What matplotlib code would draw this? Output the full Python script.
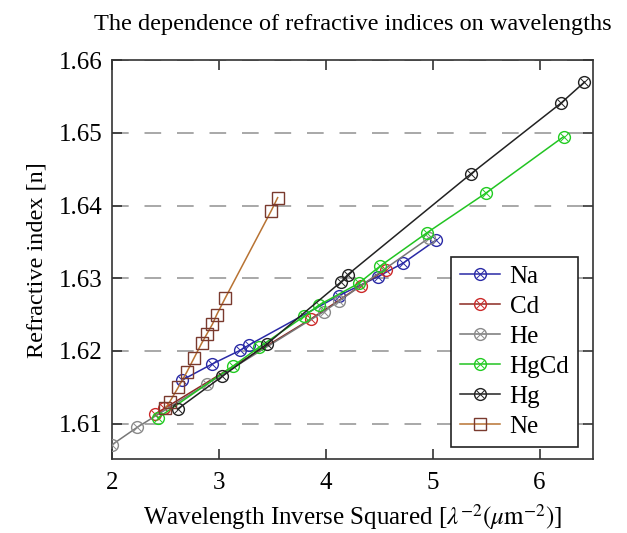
import numpy as np
import matplotlib
matplotlib.use("Agg")
import matplotlib.pyplot as plt
from matplotlib.legend_handler import HandlerTuple

plt.rcParams["font.family"] = ["Liberation Serif", "DejaVu Serif"]
plt.rcParams["mathtext.fontset"] = "stix"

# data
na_x = [2.656, 2.936, 3.20, 3.278, 4.12, 4.484, 4.724, 5.035]
na_y = [1.6160, 1.6182, 1.6201, 1.6208, 1.6276, 1.6302, 1.6321, 1.6353]

cd_x = [2.40, 2.49, 3.86, 4.33, 4.56]
cd_y = [1.6113, 1.6121, 1.6244, 1.6290, 1.6312]

he_x = [2.0, 2.236, 2.893, 3.98, 4.127, 4.97]
he_y = [1.6071, 1.6095, 1.6155, 1.6254, 1.6269, 1.6356]

hgcd_x = [2.43, 3.13, 3.374, 3.80, 3.934, 4.307, 4.51, 4.95, 5.495, 6.226]
hgcd_y = [1.6108, 1.6179, 1.6205, 1.6248, 1.6263, 1.6293, 1.6317, 1.6363, 1.6417, 1.6495]

hg_x = [2.613, 3.03, 3.452, 4.143, 4.205, 5.36, 6.20, 6.42]
hg_y = [1.6120, 1.6165, 1.6210, 1.6295, 1.6305, 1.6444, 1.6541, 1.6570]

ne_x = [2.50, 2.54, 2.62, 2.70, 2.77, 2.84, 2.89, 2.94, 2.98, 3.06, 3.49, 3.55]
ne_y = [1.6121, 1.6130, 1.6150, 1.6171, 1.6191, 1.6211, 1.6224, 1.6237, 1.6250, 1.6273, 1.6393, 1.6411]

x_ticks = [2, 3, 4, 5, 6]
y_ticks = [1.61, 1.62, 1.63, 1.64, 1.65, 1.66]

fig = plt.figure(figsize=(6.27, 5.33), dpi=100)
ax = fig.add_axes([0.1786, 0.1383, 0.7672, 0.7486])

series = [
    (na_x, na_y, "Na", "#2a2aa6", "#2a2aa6"),
    (cd_x, cd_y, "Cd", "#8b2a22", "#cc2a2a"),
    (he_x, he_y, "He", "#777777", "#8a8a8a"),
    (hgcd_x, hgcd_y, "HgCd", "#22c422", "#22cc22"),
    (hg_x, hg_y, "Hg", "#222222", "#222222"),
]
handles, labels = [], []
for xs, ys, name, lc, mc in series:
    l1, = ax.plot(xs, ys, color=lc, lw=1.1, marker="o", markersize=8.5,
                  markerfacecolor="none", markeredgecolor=mc,
                  markeredgewidth=1.0, zorder=3)
    l2, = ax.plot(xs, ys, ls="none", marker="x", markersize=5.5,
                  markeredgecolor=mc, markeredgewidth=0.7, zorder=3)
    handles.append((l1, l2))
    labels.append(name)

l_ne, = ax.plot(ne_x, ne_y, color="#b87333", lw=1.1, marker="s", markersize=8,
                markerfacecolor="none", markeredgecolor="#7a3a2e",
                markeredgewidth=1.0, zorder=3)
handles.append(l_ne)
labels.append("Ne")

ax.set_xlim(2, 6.5)
ax.set_ylim(1.6051, 1.66)
ax.set_xticks(x_ticks)
ax.set_yticks(y_ticks)
ax.set_yticklabels(["%.2f" % v for v in y_ticks])
ax.tick_params(direction="in", length=7, width=1.2, top=True, right=True,
               labelsize=18, pad=7, color="#333333")
ax.tick_params(axis="x", pad=9)
for s in ax.spines.values():
    s.set_linewidth(1.2)
    s.set_color("#333333")

ax.yaxis.grid(True, linestyle=(0, (10, 9.5)), color="#999999", lw=1.2)
ax.set_axisbelow(True)

ax.set_xlabel(r"Wavelength Inverse Squared [$\lambda^{-2}(\mu\mathrm{m}^{-2})$]",
              fontsize=18, labelpad=6)
ax.set_ylabel("Refractive index [n]", fontsize=17.5, labelpad=8)
ax.set_title("The dependence of refractive indices on wavelengths",
             fontsize=17.5, pad=22)

leg = ax.legend(handles, labels, loc="lower right",
                bbox_to_anchor=(0.969, 0.031), fontsize=18,
                handler_map={tuple: HandlerTuple(ndivide=1)},
                frameon=True, fancybox=False, edgecolor="#222222",
                handlelength=1.6, borderpad=0.35, labelspacing=0.3,
                handletextpad=0.4, borderaxespad=0)
leg.get_frame().set_linewidth(1.2)
leg.get_frame().set_alpha(1)

fig.savefig("out.png", dpi=100)
